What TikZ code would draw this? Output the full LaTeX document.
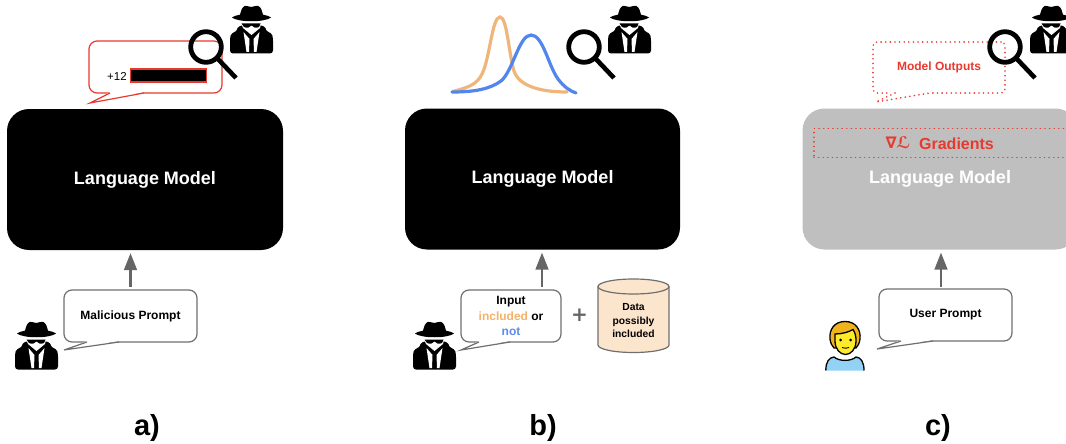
\documentclass[tikz,border=0pt]{standalone}
\usepackage{fontspec}
\setmainfont{Liberation Sans}
\newfontfamily\dejavu{DejaVu Sans}
\usetikzlibrary{arrows.meta}
\definecolor{redline}{HTML}{E8392F}
\definecolor{arrowgray}{HTML}{666666}
\definecolor{bubgray}{HTML}{6F6F6F}
\definecolor{orangec}{HTML}{EFB57A}
\definecolor{bluec}{HTML}{5186EC}
\definecolor{orangetxt}{HTML}{F6B26B}
\definecolor{bluetxt}{HTML}{5B8DEF}
\definecolor{peach}{HTML}{FCE5CD}
\definecolor{modelgray}{HTML}{BFBFBF}
\definecolor{personblue}{HTML}{92D3F5}
\definecolor{personhair}{HTML}{F1B31C}
\definecolor{personface}{HTML}{FCEA2B}
\newcommand{\modeltext}{\raisebox{-3.5pt}{Language Model}}
\tikzset{
  x=1pt,y=-1pt,
  modelbox/.style={rounded corners=22pt,minimum width=275pt,minimum height=141pt,inner sep=0pt,fill=black,
    text=white,font=\bfseries\fontsize{18}{20}\selectfont},
  promptbub/.style={draw=bubgray,line width=1.2pt,fill=white,rounded corners=8pt,inner sep=0pt,align=center,
    minimum height=52pt,text=black,font=\bfseries\fontsize{12}{15.5}\selectfont},
  outbub/.style={draw=redline,line width=1.2pt,fill=white,rounded corners=8pt,inner sep=0pt,minimum width=133pt,minimum height=52pt},
  tailred/.style={draw=redline,line width=1.2pt,line join=miter},
  tailgray/.style={draw=bubgray,line width=1.2pt,line join=miter},
  dotline/.style={draw=redline,line width=1.8pt,dash pattern=on 0.01pt off 4.6pt,line cap=round},
  flow/.style={draw=arrowgray,line width=2.7pt,-{Triangle[length=17pt,width=12.5pt]}},
  panel/.style={text=black,font=\bfseries\fontsize{29}{32}\selectfont},
  lens/.pic={
    \draw[line width=4.8pt,black] (0,0) circle[radius=15.3pt];
    \draw[line width=4.6pt,black] (11,11) -- (30,31);
  },
  spyicon/.pic={
    \fill[black,rounded corners=3pt] (0,48.5) -- (0,33) .. controls (1,29) and (4,27) .. (8,25.5) -- (7,22) -- (13,20) -- (30,20) -- (36,22) -- (35,25.5) .. controls (39,27) and (42,29) .. (43,33) -- (43,48.5) -- cycle;
    \fill[black] (9.5,13) .. controls (10.5,6) and (12,2) .. (15,0.8) .. controls (17,0.5) and (19,2) .. (21.5,2) .. controls (24,2) and (26,0) .. (28,0.8) .. controls (31,2) and (32.5,6) .. (33.5,13) -- cycle;
    \fill[black] (2,12.5) .. controls (8,7.5) and (35,7.5) .. (41,12.5) .. controls (35,17.5) and (8,17.5) .. (2,12.5) -- cycle;
    \fill[white] (10.5,16.5) .. controls (18,17.5) and (25,17.5) .. (31.5,16.5) -- (30,23) -- (21.5,30) -- (13,23) -- cycle;
    \fill[black] (11.5,18.5) -- (30.5,18.5) -- (29,22) .. controls (26,23.5) and (23,22.5) .. (21.5,20.5) .. controls (20,22.5) and (17,23.5) .. (14,22) -- cycle;
    \fill[white] (13.5,27) -- (19.5,34) -- (19,47) -- (16.5,47) -- cycle;
    \fill[white] (29.5,27) -- (23.5,34) -- (24,47) -- (26.5,47) -- cycle;
  },
  personicon/.pic={
    \filldraw[fill=personblue,draw=black,line width=1.3pt] (0.8,49.5) .. controls (0.8,41) and (4,36.5) .. (9,36) .. controls (14,40.5) and (26,40.5) .. (31,36) .. controls (36,36.5) and (39,41) .. (39,49.5);
    \filldraw[fill=personhair,draw=black,line width=1.3pt] (20,0.5) .. controls (31,0.5) and (36,9) .. (35,18) .. controls (34.5,22) and (33,25) .. (31,27) -- (9,27) .. controls (7,25) and (5.5,22) .. (5,18) .. controls (4,9) and (9,0.5) .. (20,0.5) -- cycle;
    \filldraw[fill=personface,draw=black,line width=1.3pt] (10,13) .. controls (17,13) and (24,11) .. (28,8.5) .. controls (30.5,12) and (31,16) .. (31,20) .. controls (31,28) and (26,33.5) .. (20.5,33.5) .. controls (15,33.5) and (10,28) .. (10,20) -- cycle;
    \fill[black] (15.5,19) circle[radius=1.5pt] (25.5,19) circle[radius=1.5pt];
    \draw[black,line width=0.9pt] (17,26.5) .. controls (19,27.5) and (22,27.5) .. (24,26.5);
  }
}
\begin{document}
\begin{tikzpicture}
\useasboundingbox (0,0) rectangle (1066,444);
\clip (0,0) rectangle (1066,444);

% ---------- panel a
\node[modelbox,minimum width=276pt] (modelA) at (145,179.5) {\modeltext};
\node[outbub] (outA) at (155.5,67) {};
\fill[white] (110,92) -- (90,103) -- (144,92) -- cycle;
\draw[tailred] (110,93) -- (90,103) -- (144,93);
\node[text=black,font=\fontsize{11.5}{14}\selectfont] (plusA) at (117,76) {+12};
\node[fill=black,draw=redline,line width=1.3pt,minimum width=76pt,minimum height=13pt,inner sep=0pt] (redact) at (168.5,75.5) {};
\pic at (206,47) {lens};
\pic at (230,5) {spyicon};
\node[promptbub,minimum width=133pt] (promptA) at (130.5,316) {\raisebox{-1pt}{Malicious Prompt}};
\fill[white] (87,341) -- (64,350) -- (119,341) -- cycle;
\draw[tailgray] (87,342) -- (64,350) -- (119,342);
\pic at (15,321) {spyicon};
\coordinate (fromA) at (130.5,287);
\coordinate (toA) at (130.5,253);
\draw[flow] (fromA) -- (toA);
\node[panel] (labA) at (147,428) {a)};

% ---------- panel b
\node[modelbox] (modelB) at (542.5,179) {\modeltext};
\draw[orangec,line width=3.2pt,line cap=round] (453,91.5) .. controls (470,87) and (477,84) .. (482,74) .. controls (490,58) and (492,17) .. (500,17) .. controls (507,17) and (509,55) .. (514,71) .. controls (519,86) and (540,92) .. (567,92);
\draw[bluec,line width=3.2pt,line cap=round] (452,92) .. controls (475,92) and (490,89) .. (501,81) .. controls (513,71) and (519,35) .. (531,35) .. controls (543,35) and (548,65) .. (558,79) .. controls (564,87) and (570,91) .. (576,93);
\pic at (584,47) {lens};
\pic at (608,5) {spyicon};
\node[promptbub,minimum width=100pt,font=\bfseries\fontsize{12}{15.2}\selectfont] (promptB) at (511,316) {Input\\\textcolor{orangetxt}{included} or\\\textcolor{bluetxt}{not}};
\fill[white] (479,341) -- (461,350) -- (510,341) -- cycle;
\draw[tailgray] (479,342) -- (461,350) -- (510,342);
\pic at (413,321) {spyicon};
\coordinate (fromB) at (542,287);
\coordinate (toB) at (542,252.5);
\draw[flow] (fromB) -- (toB);
\node[text=arrowgray,font=\dejavu\bfseries\fontsize{20}{20}\selectfont,inner sep=0pt] (plusB) at (579.5,315.5) {+};
\path[draw=bubgray,line width=1.2pt,fill=peach]
  (598,286.5) .. controls (598,282.4) and (613.7,279) .. (633.5,279) .. controls (653.3,279) and (669,282.4) .. (669,286.5)
  -- (669,345) .. controls (669,349.2) and (653.3,352.5) .. (633.5,352.5) .. controls (613.7,352.5) and (598,349.2) .. (598,345) -- cycle;
\draw[bubgray,line width=1.2pt] (598,286.5) .. controls (598,290.7) and (613.7,294) .. (633.5,294) .. controls (653.3,294) and (669,290.7) .. (669,286.5);
\node[align=center,text=black,font=\bfseries\fontsize{10.3}{13.5}\selectfont] (dataB) at (633.5,321) {Data\\possibly\\included};
\node[panel] (labB) at (543,428) {b)};

% ---------- panel c
\node[modelbox,fill=modelgray] (modelC) at (940,179) {\modeltext};
\node[minimum width=290pt,minimum height=29pt,inner sep=0pt,dotline] (gradbox) at (959,143) {};
\node[text=redline,font=\bfseries\fontsize{16}{18}\selectfont,inner sep=0pt] (gradT) at (956.5,143.5) {Gradients};
\node[text=redline,font=\dejavu\bfseries\fontsize{16}{18}\selectfont,inner sep=0pt] (nabla) at (898,143) {∇ℒ};
\node[minimum width=132pt,minimum height=51pt,inner sep=0pt,rounded corners=4pt,dotline,text=redline,font=\bfseries\fontsize{12}{14}\selectfont] (outC) at (939,67.5) {Model Outputs};
\fill[white] (890,91.5) rectangle (930,95);
\draw[dotline] (895,93) -- (876,102) -- (930,93);
\pic at (1005,47) {lens};
\pic at (1030,5) {spyicon};
\node[promptbub,minimum width=133pt] (promptC) at (945.5,315) {\raisebox{-1pt}{User Prompt}};
\fill[white] (901,340) -- (877,349) -- (933,340) -- cycle;
\draw[tailgray] (901,341) -- (877,349) -- (933,341);
\pic at (825,321) {personicon};
\coordinate (fromC) at (941,287);
\coordinate (toC) at (941,252.5);
\draw[flow] (fromC) -- (toC);
\node[panel] (labC) at (938,428) {c)};
\end{tikzpicture}
\end{document}
